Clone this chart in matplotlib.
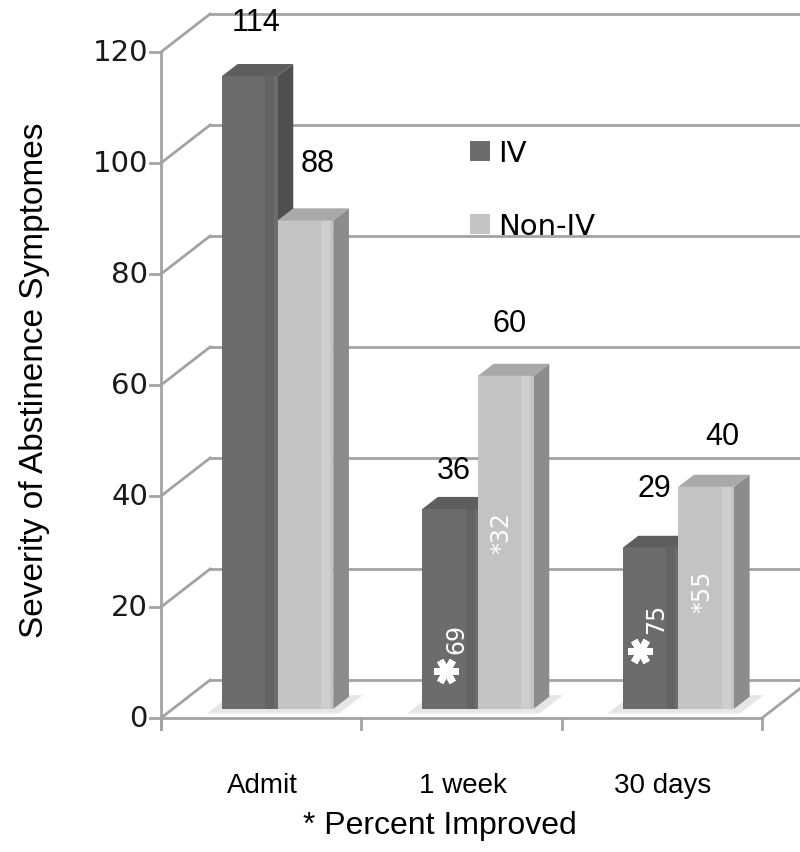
import numpy as np
import matplotlib.pyplot as plt
from matplotlib.patches import Polygon, Patch

# data
categories = ['Admit', '1 week', '30 days']
series_names = ['IV', 'Non-IV']
iv_values = [114, 36, 29]
non_iv_values = [88, 60, 40]
iv_improved = [None, 69, 75]        # percent improved, shown inside bars
non_iv_improved = [None, 32, 55]
y_ticks = [0, 20, 40, 60, 80, 100, 120]

# fake-3D geometry (data units)
DX, DY = 0.245, 6.85          # depth offset of back wall
BAR_D0, BAR_D1 = 0.24, 0.56   # bar front / back depth fraction
BAR_LEFT, BAR_W = 0.245, 0.278

GRID = '#a3a3a3'
COLORS = {
    'IV': dict(front='#6c6c6c', strip='#636363', side='#4f4f4f', top='#5e5e5e'),
    'Non-IV': dict(front='#c3c3c3', strip='#cecece', side='#8c8c8c', top='#a9a9a9'),
}

# nudges for the value labels (x in category units, y in value units)
label_dx = {'IV': [0.03, 0.02, 0.02], 'Non-IV': [0.06, 0.02, 0.08]}
label_dy = {'IV': [9.7, 7.0, 10.8], 'Non-IV': [10.3, 9.5, 9.2]}


def proj(x, y, d):
    """Oblique projection: d is depth fraction (0 = front, 1 = back wall)."""
    return (x + d * DX, y + d * DY)


def draw_bar(ax, x0, value, cols):
    x1 = x0 + BAR_W
    front = [proj(x0, 0, BAR_D0), proj(x1, 0, BAR_D0),
             proj(x1, value, BAR_D0), proj(x0, value, BAR_D0)]
    xs0, xs1 = x0 + 0.78 * BAR_W, x0 + 0.94 * BAR_W
    strip = [proj(xs0, 0, BAR_D0), proj(xs1, 0, BAR_D0),
             proj(xs1, value, BAR_D0), proj(xs0, value, BAR_D0)]
    side = [proj(x1, 0, BAR_D0), proj(x1, 0, BAR_D1),
            proj(x1, value, BAR_D1), proj(x1, value, BAR_D0)]
    top = [proj(x0, value, BAR_D0), proj(x1, value, BAR_D0),
           proj(x1, value, BAR_D1), proj(x0, value, BAR_D1)]
    ax.add_patch(Polygon(side, closed=True, fc=cols['side'], ec='none', zorder=3))
    ax.add_patch(Polygon(front, closed=True, fc=cols['front'], ec='none', zorder=3))
    ax.add_patch(Polygon(strip, closed=True, fc=cols['strip'], ec='none', zorder=3))
    ax.add_patch(Polygon(top, closed=True, fc=cols['top'], ec='none', zorder=3))


fig = plt.figure(figsize=(8, 8.53), dpi=100)
ax = fig.add_axes([0, 0, 1, 1])
ax.set_xlim(-0.8037, 3.1897)
ax.set_ylim(-24.14, 129.55)
ax.axis('off')

n = len(categories)

# back wall gridlines and left wall diagonals
for t in y_ticks:
    ax.plot([DX, n + DX + 1], [t + DY, t + DY], color=GRID, lw=2.0, zorder=1)
    ax.plot([0, DX], [t, t + DY], color=GRID, lw=2.0, zorder=1)

# floor
ax.plot([0, n], [0, 0], color=GRID, lw=2.0, zorder=1)
ax.plot([n, n + DX], [0, DY], color=GRID, lw=2.0, zorder=1)
# front value axis + ticks
ax.plot([0, 0], [-2, 120], color=GRID, lw=2.0, zorder=1)
for t in y_ticks:
    ax.plot([-0.055, 0], [t, t], color=GRID, lw=2.0, zorder=1)
    ax.text(-0.065, t, str(t), ha='right', va='center', fontsize=21,
            family='DejaVu Sans', color='#1a1a1a')
for i in range(n + 1):
    ax.plot([i, i], [0, -2], color=GRID, lw=2.0, zorder=1)

# soft floor shadow under each pair
for i in range(n):
    shadow = [proj(i + 0.20, 0, 0.12), proj(i + 0.86, 0, 0.12),
              proj(i + 0.86, 0, 0.60), proj(i + 0.20, 0, 0.60)]
    ax.add_patch(Polygon(shadow, closed=True, fc='#e6e6e6', ec='none', zorder=2))

# bars
for i in range(n):
    x_iv = i + BAR_LEFT
    x_non = x_iv + BAR_W
    draw_bar(ax, x_iv, iv_values[i], COLORS['IV'])
    draw_bar(ax, x_non, non_iv_values[i], COLORS['Non-IV'])

    for name, x0, v in [('IV', x_iv, iv_values[i]), ('Non-IV', x_non, non_iv_values[i])]:
        lx, ly = proj(x0 + BAR_W / 2 + label_dx[name][i], v + label_dy[name][i], BAR_D0)
        ax.text(lx, ly, str(v), ha='center', va='center', fontsize=22,
                family='Liberation Sans', color='black', zorder=5)

    # percent improved, inside the bars
    if iv_improved[i] is not None:
        sx, sy = proj(x_iv + BAR_W / 2 - 0.02 - 0.03 * (i - 1), 6.8 + 3.7 * (i - 1), BAR_D0)
        ax.plot(sx, sy, marker=(6, 2, 90), ms=18, mew=5, color='white', zorder=6)
        tx, ty = proj(x_iv + BAR_W / 2 + 0.03, 12.8 + 3.6 * (i - 1), BAR_D0)
        ax.text(tx, ty, str(iv_improved[i]), rotation=90, ha='center', va='center',
                fontsize=17, family='DejaVu Sans', color='white', zorder=6)
    if non_iv_improved[i] is not None:
        v = non_iv_values[i]
        tx, ty = proj(x_non + BAR_W / 2 - 0.02, v * 0.53, BAR_D0)
        ax.text(tx, ty, '*' + str(non_iv_improved[i]), rotation=90, ha='center',
                va='center', fontsize=17, family='DejaVu Sans', color='white', zorder=6)

# category labels
for i, c in enumerate(categories):
    ax.text(i + 0.505, -12, c, ha='center', va='center', fontsize=20,
            family='Liberation Sans', color='black')

fig.text(0.55, 1 - 826 / 853, '* Percent Improved', ha='center', va='center',
         fontsize=23, family='Liberation Sans')
fig.text(0.043, 1 - 380 / 853, 'Severity of Abstinence Symptomes', rotation=90,
         ha='center', va='center', fontsize=24, family='Liberation Sans')

handles = [Patch(fc=COLORS[s]['front'], ec='none') for s in series_names]
ax.legend(handles, series_names, loc='upper left',
          bbox_to_anchor=(470 / 800, 1 - 140 / 853), bbox_transform=fig.transFigure,
          frameon=False, handlelength=0.7, handleheight=0.7,
          handletextpad=0.25, labelspacing=1.55, borderpad=0, borderaxespad=0,
          prop={'family': 'DejaVu Sans', 'size': 21})

fig.savefig('out.png', dpi=100, facecolor='white')
